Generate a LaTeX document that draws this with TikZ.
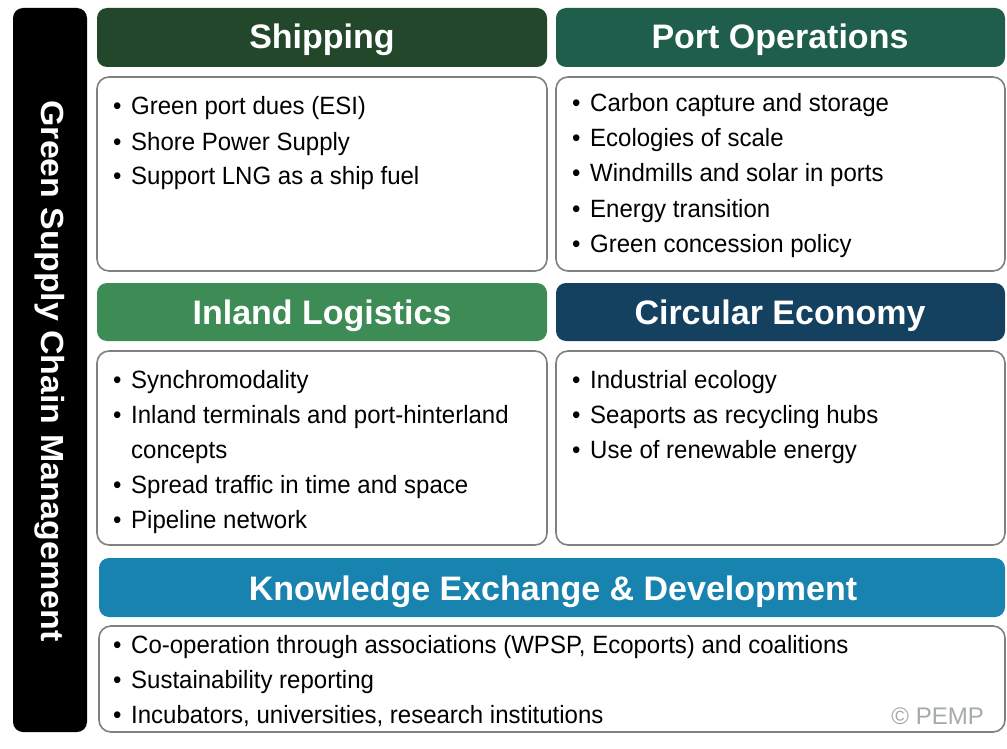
\documentclass[tikz,border=0pt]{standalone}
\usepackage{fontspec}
\setmainfont{Liberation Sans}
\newfontfamily\sidefont{Liberation Sans}[FakeStretch=1.06]
\newfontfamily\bodyfont{Liberation Sans}[FakeStretch=0.96]
\definecolor{cship}{HTML}{22472B}
\definecolor{cport}{HTML}{1F5E4B}
\definecolor{cinland}{HTML}{3D8B55}
\definecolor{ccirc}{HTML}{154160}
\definecolor{cknow}{HTML}{1783AE}
\definecolor{cborder}{HTML}{808080}
\definecolor{cpemp}{HTML}{A5ABA8}
\newcommand\bline[4]{\node[bodytxt] (#1) at (#2,#3) {\makebox[18pt][l]{•}#4};}
\newcommand\contline[4]{\node[bodytxt] (#1) at (#2,#3) {#4};}
\begin{document}
\begin{tikzpicture}[x=1pt,y=-1pt,
  header/.style={rounded corners=10pt},
  bodybox/.style={draw=cborder, line width=1.6pt, fill=white, rounded corners=12pt},
  titletxt/.style={anchor=base, text=white, font=\bfseries\fontsize{34}{38}\selectfont, inner sep=0pt},
  bodytxt/.style={anchor=base west, inner sep=0pt, font=\bodyfont\fontsize{25}{30}\selectfont, text=black}]
\useasboundingbox (0,0) rectangle (1007,749);
\fill[white] (0,0) rectangle (1007,749);
% left bar
\fill[black, rounded corners=10pt] (13,8) rectangle (87,732);
\node[rotate=-90, text=white, inner sep=0pt, font=\sidefont\bfseries\fontsize{32}{36}\selectfont] (side) at (50,371) {Green Supply Chain Management};
% headers
\fill[cship, header] (97,8) rectangle (547,67);
\fill[cport, header] (556,8) rectangle (1005,67);
\fill[cinland, header] (97,283) rectangle (547,341);
\fill[ccirc, header] (556,283) rectangle (1005,341);
\fill[cknow, header] (99,558) rectangle (1005,617);
\node[titletxt] (tship) at (322,49) {Shipping};
\node[titletxt] (tport) at (780,49) {Port Operations};
\node[titletxt] (tinland) at (322,324) {Inland Logistics};
\node[titletxt] (tcirc) at (780,324) {Circular Economy};
\node[titletxt] (tknow) at (553,600) {Knowledge Exchange \& Development};
% bodies
\draw[bodybox] (97,77) rectangle (547,271);
\draw[bodybox] (556,77) rectangle (1005,271);
\draw[bodybox] (97,351) rectangle (547,545);
\draw[bodybox] (556,351) rectangle (1005,545);
\draw[bodybox] (99,626) rectangle (1005,732);
% shipping
\bline{s1}{113}{115}{Green port dues (ESI)}
\bline{s2}{113}{150}{Shore Power Supply}
\bline{s3}{113}{185}{Support LNG as a ship fuel}
% port
\bline{p1}{572}{112}{Carbon capture and storage}
\bline{p2}{572}{147}{Ecologies of scale}
\bline{p3}{572}{182}{Windmills and solar in ports}
\bline{p4}{572}{217}{Energy transition}
\bline{p5}{572}{252}{Green concession policy}
% inland
\bline{i1}{113}{388}{Synchromodality}
\bline{i2}{113}{423}{Inland terminals and port-hinterland}
\contline{i2b}{131}{458}{concepts}
\bline{i3}{113}{493}{Spread traffic in time and space}
\bline{i4}{113}{528}{Pipeline network}
% circular
\bline{c1}{572}{388}{Industrial ecology}
\bline{c2}{572}{423}{Seaports as recycling hubs}
\bline{c3}{572}{458}{Use of renewable energy}
% knowledge
\bline{k1}{113}{653}{Co-operation through associations (WPSP, Ecoports) and coalitions}
\bline{k2}{113}{688}{Sustainability reporting}
\bline{k3}{113}{723}{Incubators, universities, research institutions}
\node[anchor=base east, inner sep=0pt, text=cpemp, font=\fontsize{24}{29}\selectfont] (pemp) at (984,724) {© PEMP};
\end{tikzpicture}
\end{document}
